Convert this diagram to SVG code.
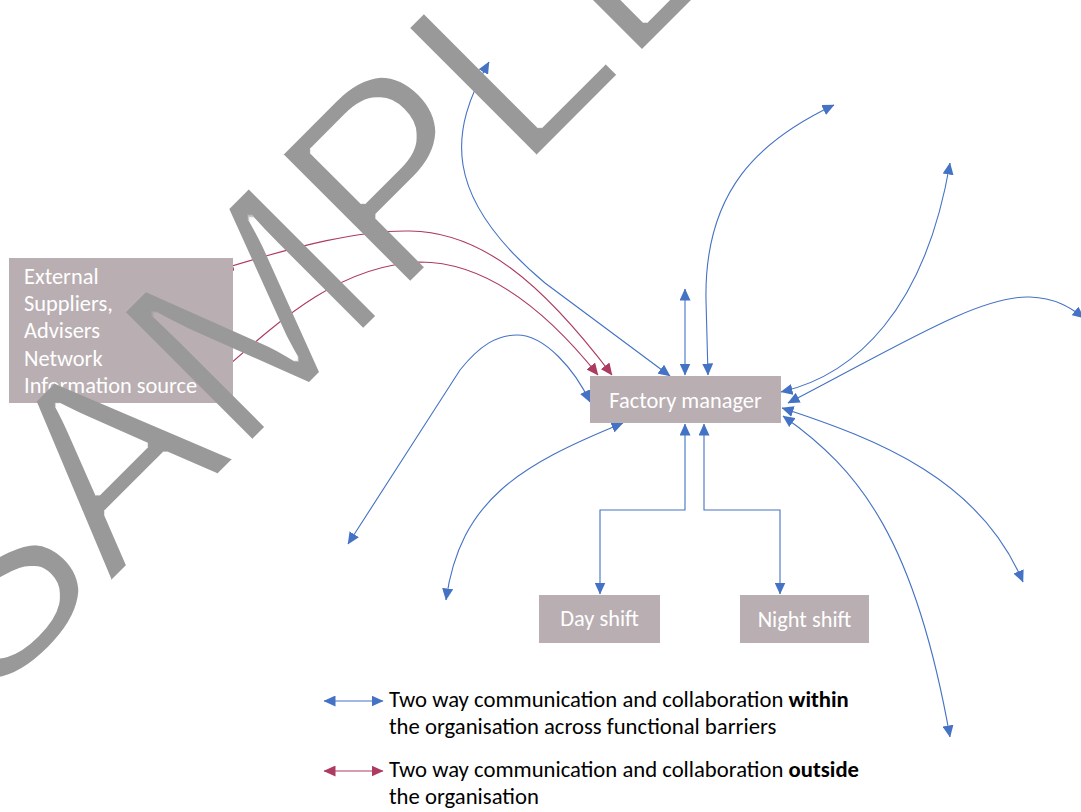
<svg xmlns="http://www.w3.org/2000/svg" width="1081" height="812" viewBox="0 0 1081 812">
  <style>
    .box { fill: #b9aeb1; }
    .lbl { font-family: Carlito, Calibri, Lato, "Liberation Sans", sans-serif; font-size: 22.4px; fill: #ffffff; }
    .leg { font-family: Carlito, Calibri, Lato, "Liberation Sans", sans-serif; font-size: 22.7px; fill: #000000; }
    .blue { fill: none; stroke: #4472c4; stroke-width: 1.1; marker-start: url(#hb); marker-end: url(#hb); }
    .red { fill: none; stroke: #ad3a60; stroke-width: 1.1; marker-start: url(#hr); marker-end: url(#hr); }
    .mark { font-family: "Liberation Sans", Arial, sans-serif; font-size: 268px; fill: #999999; }
  </style>
  <defs>
    <marker id="hb" viewBox="0 0 12 11" refX="11.5" refY="5.5" markerWidth="12" markerHeight="11" markerUnits="userSpaceOnUse" orient="auto-start-reverse">
      <path d="M0,0 L12,5.5 L0,11 Z" fill="#4472c4"/>
    </marker>
    <marker id="hr" viewBox="0 0 12 11" refX="11.5" refY="5.5" markerWidth="12" markerHeight="11" markerUnits="userSpaceOnUse" orient="auto-start-reverse">
      <path d="M0,0 L12,5.5 L0,11 Z" fill="#ad3a60"/>
    </marker>
    <!-- slims the watermark glyph strokes -->
    <filter id="thin" x="-10%" y="-10%" width="120%" height="120%">
      <feMorphology operator="erode" radius="1.8"/>
    </filter>
  </defs>

  <rect width="1081" height="812" fill="#ffffff"/>

  <!-- connectors -->
  <g id="connectors">
    <path class="blue" d="M489,62 C450,130 440,195 545,283 L670,376"/>
    <path class="blue" d="M685,289 L685,375"/>
    <path class="blue" d="M708,375 L706,300 C704,190 760,140 834,105"/>
    <path class="blue" d="M781,392 C855,375 925,310 950,163"/>
    <path class="blue" d="M788,403 C900,345 980,295 1030,297 C1055,298 1070,307 1084,318"/>
    <path class="blue" d="M782,408 C880,440 980,480 1023,582"/>
    <path class="blue" d="M783,416 C860,470 915,540 950,737"/>
    <path class="blue" d="M623,423 C520,465 460,500 446,600"/>
    <path class="blue" d="M590,402 C575,370 545,335 517,335 C497,335 480,345 460,370 L348,544"/>
    <path class="blue" d="M685,424 L685,510 L600,510 L600,594"/>
    <path class="blue" d="M704,424 L704,510 L780,510 L780,594"/>
    <path class="red" d="M222,269 C300,245 360,230 410,231 C480,232 540,280 612,375"/>
    <path class="red" d="M221,372 C280,320 340,265 420,262 C490,262 550,315 598,375"/>
  </g>

  <!-- nodes -->
  <g id="external">
    <rect class="box" x="9" y="258" width="224" height="145"/>
    <text class="lbl" x="24" y="284">External</text>
    <text class="lbl" x="24" y="311">Suppliers,</text>
    <text class="lbl" x="24" y="338">Advisers</text>
    <text class="lbl" x="24" y="366">Network</text>
    <text class="lbl" x="24" y="393">Information source</text>
  </g>
  <g id="factory-manager">
    <rect class="box" x="590" y="376" width="191" height="47"/>
    <text class="lbl" x="685.5" y="408" text-anchor="middle">Factory manager</text>
  </g>
  <g id="day-shift">
    <rect class="box" x="539" y="595" width="121" height="48"/>
    <text class="lbl" x="599.5" y="626" text-anchor="middle">Day shift</text>
  </g>
  <g id="night-shift">
    <rect class="box" x="740" y="595" width="129" height="48"/>
    <text class="lbl" x="804.5" y="627" text-anchor="middle">Night shift</text>
  </g>

  <!-- legend -->
  <g id="legend">
    <path class="blue" d="M324,701 L383,701"/>
    <text class="leg" x="389" y="707">Two way communication and collaboration <tspan font-weight="bold">within</tspan></text>
    <text class="leg" x="389" y="734">the organisation across functional barriers</text>
    <path class="red" d="M324,771 L383,771"/>
    <text class="leg" x="389" y="777">Two way communication and collaboration <tspan font-weight="bold">outside</tspan></text>
    <text class="leg" x="389" y="804">the organisation</text>
  </g>

  <!-- watermark -->
  <g id="watermark" filter="url(#thin)">
    <text class="mark" transform="translate(-16,711) rotate(-45)">SAMPLE</text>
  </g>
</svg>
